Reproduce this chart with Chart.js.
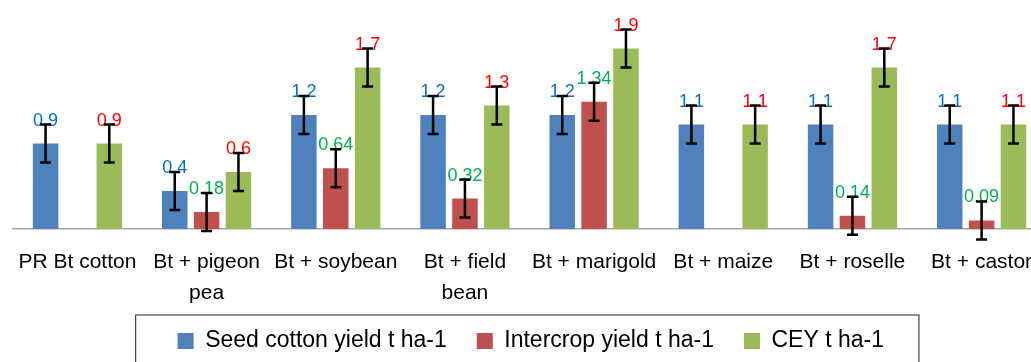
<!DOCTYPE html>
<html>
<head>
<meta charset="utf-8">
<script src="https://cdn.jsdelivr.net/npm/chart.js@4.4.0/dist/chart.umd.min.js"></script>
<style>
  html, body { margin: 0; padding: 0; overflow: hidden; background: #fff; }
  #wrap { width: 1050px; height: 380px; }
</style>
</head>
<body>
<div id="wrap"><canvas id="yield-chart" width="1050" height="380"></canvas></div>
<script>
// Categories (treatments)
const categories = [
  'PR Bt cotton',
  ['Bt + pigeon', 'pea'],
  'Bt + soybean',
  ['Bt + field', 'bean'],
  'Bt + marigold',
  'Bt + maize',
  'Bt + roselle',
  'Bt + castor'
];

// Series values (t ha-1)
const seedCottonYield = [0.9, 0.4, 1.2, 1.2, 1.2, 1.1, 1.1, 1.1];
const intercropYield = [null, 0.18, 0.64, 0.32, 1.34, null, 0.14, 0.09];
const ceyYield = [0.9, 0.6, 1.7, 1.3, 1.9, 1.1, 1.7, 1.1];

// Error bar half-widths
const seedCottonErr = [0.2, 0.2, 0.2, 0.2, 0.2, 0.2, 0.2, 0.2];
const intercropErr = [0.2, 0.2, 0.2, 0.2, 0.2, 0.2, 0.2, 0.2];
const ceyErr = [0.2, 0.2, 0.2, 0.2, 0.2, 0.2, 0.2, 0.2];

const FONT = "'Liberation Sans', Arial, sans-serif";

// Draw value labels and error bars on top of each bar
const errorBarPlugin = {
  id: 'errorBars',
  afterDatasetsDraw(chart) {
    const ctx = chart.ctx;
    const yScale = chart.scales.y;
    chart.data.datasets.forEach((ds, i) => {
      const meta = chart.getDatasetMeta(i);
      meta.data.forEach((bar, j) => {
        const v = ds.data[j];
        if (v === null) return;
        const err = ds.errors[j];
        const top = yScale.getPixelForValue(v + err);
        const bottom = yScale.getPixelForValue(v - err);

        ctx.save();
        ctx.font = `18px ${FONT}`;
        ctx.fillStyle = ds.labelColor;
        ctx.textAlign = 'center';
        ctx.textBaseline = 'alphabetic';
        ctx.fillText(String(v), bar.x, top + 1);

        ctx.strokeStyle = '#000';
        ctx.lineWidth = 2.5;
        ctx.beginPath();
        ctx.moveTo(bar.x, top);
        ctx.lineTo(bar.x, bottom);
        ctx.moveTo(bar.x - 5.5, top);
        ctx.lineTo(bar.x + 5.5, top);
        ctx.moveTo(bar.x - 5.5, bottom);
        ctx.lineTo(bar.x + 5.5, bottom);
        ctx.stroke();
        ctx.restore();
      });
    });
  }
};

// Let the two-line category labels spill below the axis box (no clipping)
const labelRoomPlugin = {
  id: 'labelRoom',
  afterLayout(chart) {
    chart.scales.x.bottom += 25;
  }
};

// Frame around the legend
const legendBoxPlugin = {
  id: 'legendBox',
  afterDraw(chart) {
    const boxes = chart.legend.legendHitBoxes;
    if (!boxes || !boxes.length) return;
    const first = boxes[0];
    const last = boxes[boxes.length - 1];
    const left = first.left - 42;
    const right = last.left + last.width + 35;
    const top = first.top + first.height / 2 - 26;
    const ctx = chart.ctx;
    ctx.save();
    ctx.strokeStyle = '#444';
    ctx.lineWidth = 1.2;
    ctx.strokeRect(left, top, right - left, 60);
    ctx.restore();
  }
};

new Chart(document.getElementById('yield-chart'), {
  type: 'bar',
  data: {
    labels: categories,
    datasets: [
      {
        label: 'Seed cotton yield t ha-1',
        data: seedCottonYield,
        errors: seedCottonErr,
        labelColor: '#0070C0',
        backgroundColor: '#4F81BD',
        borderWidth: 0
      },
      {
        label: 'Intercrop yield t ha-1',
        data: intercropYield,
        errors: intercropErr,
        labelColor: '#00B050',
        backgroundColor: '#C0504D',
        borderWidth: 0
      },
      {
        label: 'CEY t ha-1',
        data: ceyYield,
        errors: ceyErr,
        labelColor: '#FF0000',
        backgroundColor: '#9BBB59',
        borderWidth: 0
      }
    ]
  },
  options: {
    responsive: false,
    animation: false,
    categoryPercentage: 0.74,
    barPercentage: 0.8,
    layout: { padding: { top: 1, left: 11.6, right: 0, bottom: 17.5 } },
    plugins: {
      legend: {
        display: true,
        position: 'bottom',
        labels: {
          boxWidth: 16,
          boxHeight: 16,
          padding: 30,
          color: '#000',
          font: { family: FONT, size: 23 }
        }
      },
      tooltip: { enabled: false }
    },
    scales: {
      x: {
        grid: { display: false, drawTicks: false },
        border: { display: true, color: '#A6A6A6', width: 1.5 },
        ticks: {
          color: '#000',
          padding: 18,
          maxRotation: 0,
          autoSkip: false,
          font: { family: FONT, size: 21, lineHeight: 1.476 }
        },
        afterFit: (scale) => { scale.height = 70.5; }
      },
      y: {
        display: false,
        min: 0,
        max: 2.4
      }
    }
  },
  plugins: [errorBarPlugin, labelRoomPlugin, legendBoxPlugin]
});
</script>
</body>
</html>
